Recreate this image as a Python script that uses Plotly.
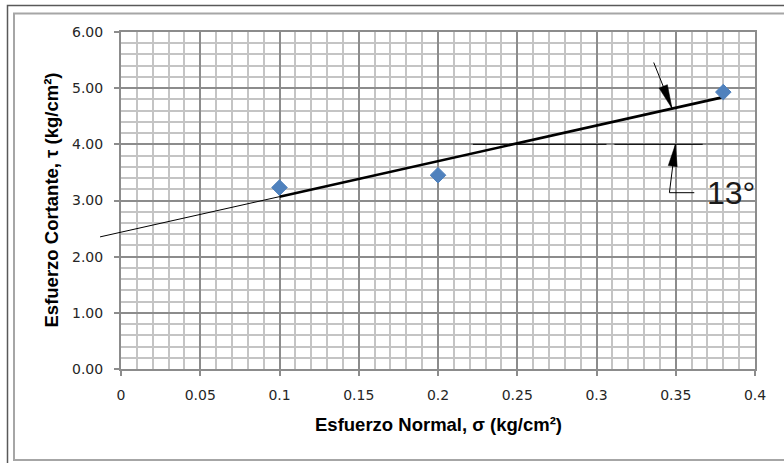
import math
import numpy as np
import plotly.graph_objects as go

# Direct shear test results
sigma = [0.1, 0.2, 0.38]          # normal stress, kg/cm2
tau = [3.23, 3.45, 4.93]          # shear stress, kg/cm2

x_ticks = [0, 0.05, 0.1, 0.15, 0.2, 0.25, 0.3, 0.35, 0.4]
x_tick_labels = ["0", "0.05", "0.1", "0.15", "0.2", "0.25", "0.3", "0.35", "0.4"]
y_ticks = [0, 1, 2, 3, 4, 5, 6]
y_tick_labels = ["0.00", "1.00", "2.00", "3.00", "4.00", "5.00", "6.00"]

# Failure-envelope construction
ext_start = -0.0132               # backward extension of the envelope
ref_level = 4.0                   # horizontal reference line
ref_spans = [(0.222, 0.3063), (0.3113, 0.367)]
arrow_top = (0.3361, 5.457, 0.3477)        # tail x, tail y, tip x (tip on envelope)
arrow_bot = (0.3460, 3.139, 0.3498)        # tail x, tail y, tip x (tip on ref line)
leader_end = 0.3617
angle_label = "13°"
angle_label_pos = (0.3687, 3.133)

W, H = 784, 463
ML, MR, MT, MB = 121, 29, 32, 94
PW, PH = W - ML - MR, H - MT - MB
X_RANGE, Y_RANGE = [0, 0.4], [0, 6]

slope, intercept = np.polyfit(sigma, tau, 1)
def envelope(x):
    return float(intercept + slope * x)

def dx2paper(x):
    return (x - X_RANGE[0]) / (X_RANGE[1] - X_RANGE[0])

def dy2paper(y):
    return (y - Y_RANGE[0]) / (Y_RANGE[1] - Y_RANGE[0])

def px2paper_x(px):
    return (px - ML) / PW

def px2paper_y(py):
    return (H - MB - py) / PH

PX_PER_X = PW / (X_RANGE[1] - X_RANGE[0])
PX_PER_Y = PH / (Y_RANGE[1] - Y_RANGE[0])

fig = go.Figure()

# Fitted envelope over the tested range
xs = [min(sigma), max(sigma)]
fig.add_trace(go.Scatter(x=xs, y=[envelope(v) for v in xs], mode="lines",
                         line=dict(color="black", width=2.6), hoverinfo="skip",
                         showlegend=False))

fig.add_trace(go.Scatter(x=sigma, y=tau, mode="markers",
                         marker=dict(symbol="diamond", size=12, color="#4F81BD",
                                     line=dict(color="#4F81BD", width=1)),
                         showlegend=False))

shapes = []
# thin backward extension of the envelope (runs into the margin)
shapes.append(dict(type="line", xref="paper", yref="paper",
                   x0=dx2paper(ext_start), y0=dy2paper(envelope(ext_start)),
                   x1=dx2paper(min(sigma)), y1=dy2paper(envelope(min(sigma))),
                   line=dict(color="black", width=1)))

# horizontal reference
for a, b in ref_spans:
    shapes.append(dict(type="line", xref="x", yref="y", x0=a, x1=b,
                       y0=ref_level, y1=ref_level, line=dict(color="black", width=1)))

def arrow(tx, ty, hx, hy, length, width):
    shapes.append(dict(type="line", xref="x", yref="y", x0=tx, y0=ty, x1=hx, y1=hy,
                       line=dict(color="black", width=1)))
    dxp = (hx - tx) * PX_PER_X
    dyp = (hy - ty) * PX_PER_Y
    n = math.hypot(dxp, dyp)
    ux, uy = dxp / n, dyp / n
    bx, by = -ux * length, -uy * length
    qx, qy = -uy * width / 2, ux * width / 2
    path = (f"M0,0 L{bx + qx:.2f},{by + qy:.2f} L{bx - qx:.2f},{by - qy:.2f} Z")
    shapes.append(dict(type="path", xref="x", yref="y", xsizemode="pixel",
                       ysizemode="pixel", xanchor=hx, yanchor=hy, path=path,
                       fillcolor="black", line=dict(color="black", width=0.5)))

tx, ty, hx = arrow_top
arrow(tx, ty, hx, envelope(hx), 24, 9)
tx, ty, hx = arrow_bot
arrow(tx, ty, hx, ref_level, 22, 9)
shapes.append(dict(type="line", xref="x", yref="y", x0=tx, x1=leader_end, y0=ty, y1=ty,
                   line=dict(color="black", width=1)))

# chart frame
shapes.append(dict(type="rect", xref="paper", yref="paper",
                   x0=px2paper_x(7.5), x1=px2paper_x(800), y0=px2paper_y(5.5), y1=px2paper_y(480),
                   line=dict(color="#595959", width=1.5), layer="below"))
shapes.append(dict(type="rect", xref="paper", yref="paper",
                   x0=px2paper_x(14), x1=px2paper_x(800), y0=px2paper_y(13.5), y1=px2paper_y(460),
                   line=dict(color="#a6a6a6", width=2), layer="below"))

annotations = [
    dict(text=angle_label, x=angle_label_pos[0], y=angle_label_pos[1], xref="x", yref="y",
         xanchor="left", yanchor="middle", showarrow=False,
         font=dict(family="Liberation Sans", size=32, color="#1a1a1a")),
    dict(text="Esfuerzo Normal, σ (kg/cm²)", x=0.5, y=0, xref="paper", yref="paper",
         xanchor="center", yanchor="middle", yshift=-55, showarrow=False,
         font=dict(family="Liberation Sans", size=18.5, color="black", weight="bold")),
    dict(text="Esfuerzo Cortante, τ (kg/cm²)", x=0, y=0.5, xref="paper", yref="paper",
         xanchor="center", yanchor="middle", xshift=-70, textangle=-90, showarrow=False,
         font=dict(family="Liberation Sans", size=18.5, color="black", weight="bold")),
]

major_grid = "#8c8c8c"
minor_grid = "#c4c4c4"

fig.update_layout(
    width=W, height=H, margin=dict(l=ML, r=MR, t=MT, b=MB),
    paper_bgcolor="white", plot_bgcolor="white",
    shapes=shapes, annotations=annotations,
    xaxis=dict(range=X_RANGE, tickmode="array", tickvals=x_ticks, ticktext=x_tick_labels,
               showgrid=True, gridcolor=major_grid, gridwidth=2,
               minor=dict(dtick=0.01, tick0=0, showgrid=True, gridcolor=minor_grid, gridwidth=2),
               showline=True, linecolor=major_grid, linewidth=2, mirror=True,
               ticks="outside", ticklen=5, tickcolor=major_grid, tickwidth=2,
               zeroline=False, ticklabelstandoff=7,
               tickfont=dict(family="DejaVu Sans", size=14, color="#262626")),
    yaxis=dict(range=Y_RANGE, tickmode="array", tickvals=y_ticks, ticktext=y_tick_labels,
               showgrid=True, gridcolor=major_grid, gridwidth=2,
               minor=dict(dtick=0.2, tick0=0, showgrid=True, gridcolor=minor_grid, gridwidth=2),
               showline=True, linecolor=major_grid, linewidth=2, mirror=True,
               ticks="outside", ticklen=5, tickcolor=major_grid, tickwidth=2,
               zeroline=False, ticklabelstandoff=8,
               tickfont=dict(family="DejaVu Sans", size=14, color="#262626")),
)

fig.write_html("out.html")
